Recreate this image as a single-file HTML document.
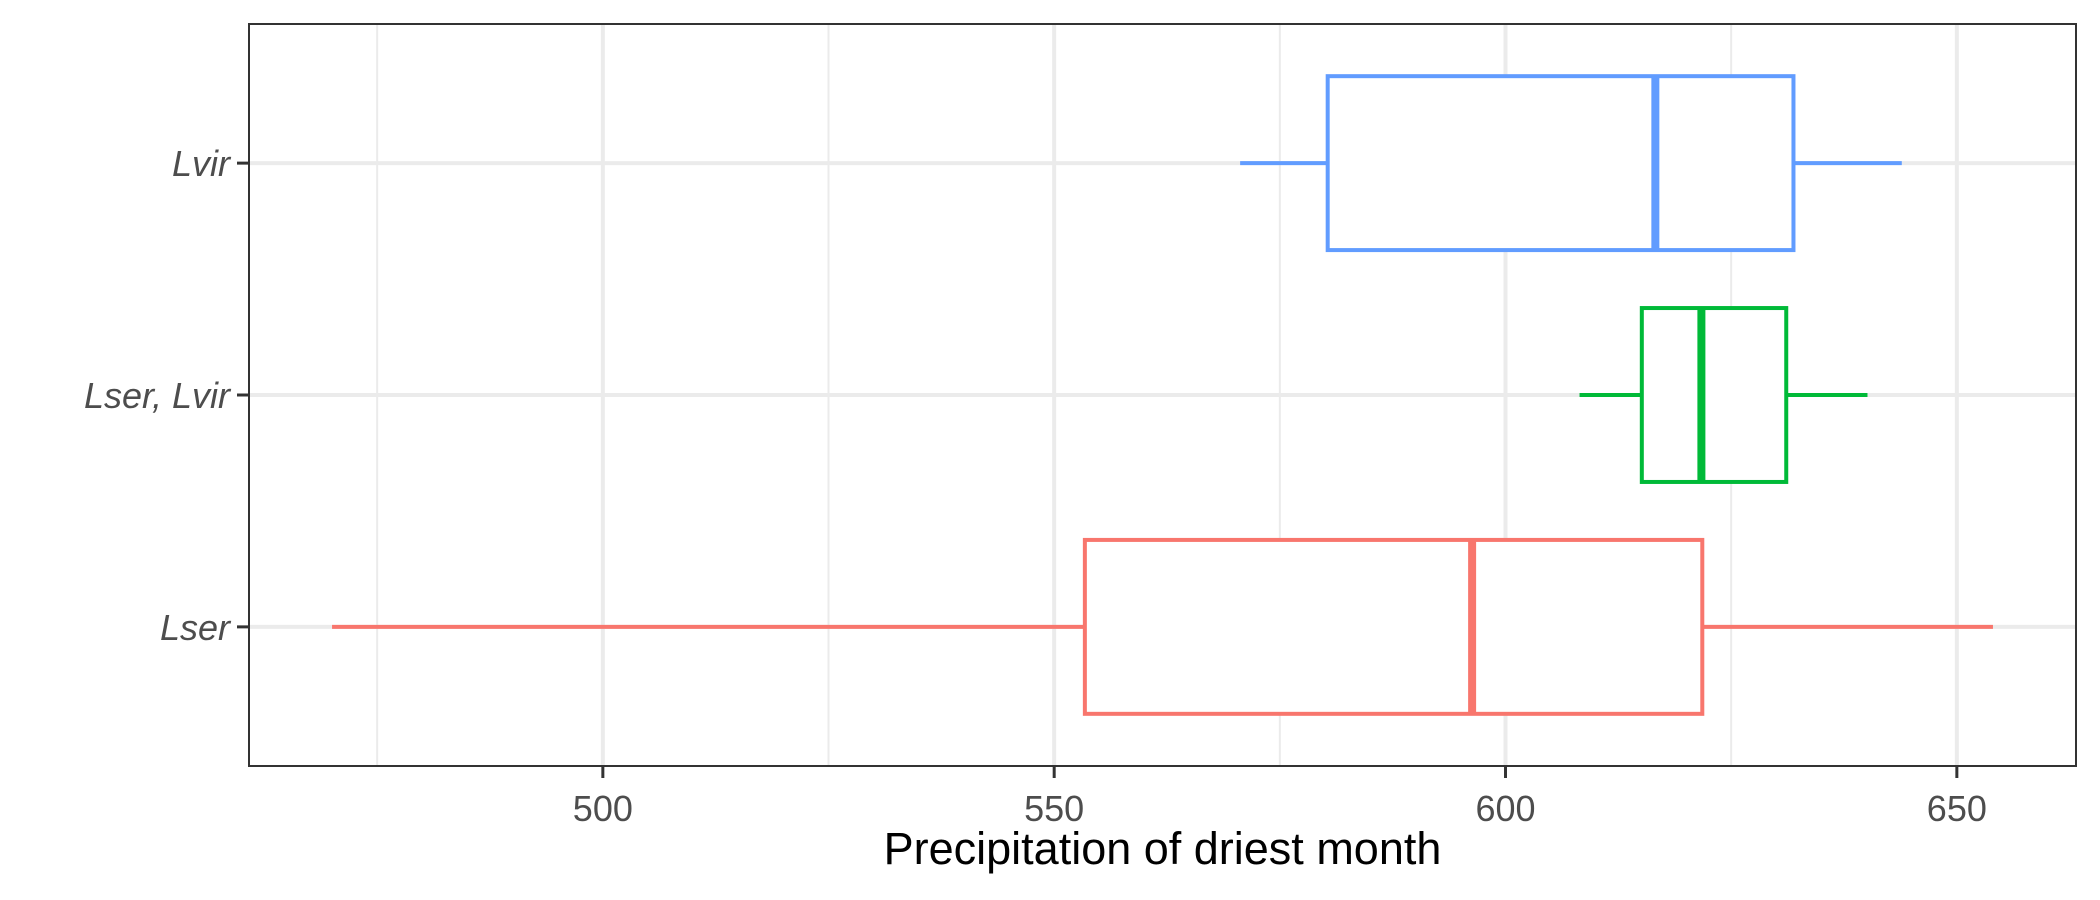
<!DOCTYPE html>
<html><head><meta charset="utf-8"><style>
html,body{margin:0;padding:0;background:#fff;}
svg{display:block;font-family:"Liberation Sans",sans-serif;}
</style></head><body>
<svg id="chart" width="2100" height="900"></svg>
<script>
const categories = ["Lser", "Lser, Lvir", "Lvir"];
const colors = ["#F8766D", "#00BA38", "#619CFF"];
const whiskerLow = [470.0, 608.2, 570.6];
const q1 = [553.4, 615.1, 580.3];
const median = [596.3, 621.7, 616.6];
const q3 = [621.8, 631.1, 631.9];
const whiskerHigh = [654.0, 640.1, 643.9];
const xTicks = [500, 550, 600, 650];
const xMinor = [475, 525, 575, 625];

const L = 249, R = 2076, T = 24, B = 766;
const xMin = 460.8, xMax = 663.2;
function xs(v){ return L + (v - xMin) / (xMax - xMin) * (R - L); }
const unit = (B - T) / (categories.length - 1 + 1.2);
function ys(i){ return B - (0.6 + i) * unit; }

const svg = document.getElementById('chart');
const NS = 'http://www.w3.org/2000/svg';
function mk(tag, attrs, parent){
  const e = document.createElementNS(NS, tag);
  for (const k in attrs) e.setAttribute(k, attrs[k]);
  (parent || svg).appendChild(e);
  return e;
}
const bg = mk('rect', {x:L, y:T, width:R-L, height:B-T, fill:'#fff'});



xMinor.forEach(v => {
  const g = mk('line', {x1:xs(v), x2:xs(v), y1:T, y2:B, stroke:'#ebebeb', 'stroke-width':2});
  
  
});
xTicks.forEach(v => {
  const g = mk('line', {x1:xs(v), x2:xs(v), y1:T, y2:B, stroke:'#ebebeb', 'stroke-width':4});
  
  
});
categories.forEach((c, i) => {
  const g = mk('line', {x1:L, x2:R, y1:ys(i), y2:ys(i), stroke:'#ebebeb', 'stroke-width':4});
  
  
});

categories.forEach((c, i) => {
  const y = ys(i), h = unit * 0.75, col = colors[i];
  const g = mk('g', {});
  
  
  mk('line', {x1:xs(whiskerLow[i]), x2:xs(q1[i]), y1:y, y2:y, stroke:col, 'stroke-width':4}, g);
  mk('line', {x1:xs(q3[i]), x2:xs(whiskerHigh[i]), y1:y, y2:y, stroke:col, 'stroke-width':4}, g);
  mk('rect', {x:xs(q1[i]), y:y-h/2, width:xs(q3[i])-xs(q1[i]), height:h, fill:'#fff', stroke:col, 'stroke-width':4}, g);
  mk('line', {x1:xs(median[i]), x2:xs(median[i]), y1:y-h/2, y2:y+h/2, stroke:col, 'stroke-width':8}, g);
});

const border = mk('rect', {x:L, y:T, width:R-L, height:B-T, fill:'none', stroke:'#333', 'stroke-width':2});



xTicks.forEach(v => {
  const t = mk('line', {x1:xs(v), x2:xs(v), y1:B, y2:B+12, stroke:'#333', 'stroke-width':3});
  
  
  const l = mk('text', {x:xs(v), y:B+55, 'text-anchor':'middle', 'font-size':36, fill:'#4d4d4d'});
  l.textContent = v;
  
  
});
categories.forEach((c, i) => {
  const t = mk('line', {x1:L-12, x2:L, y1:ys(i), y2:ys(i), stroke:'#333', 'stroke-width':3});
  
  
  const l = mk('text', {x:L-19, y:ys(i)+13, 'text-anchor':'end', 'font-size':36, 'font-style':'italic', fill:'#4d4d4d'});
  l.textContent = c;
  
  
});
const title = mk('text', {x:(L+R)/2, y:864, 'text-anchor':'middle', 'font-size':45, fill:'#000'});
title.textContent = 'Precipitation of driest month';


</script>
</body></html>
